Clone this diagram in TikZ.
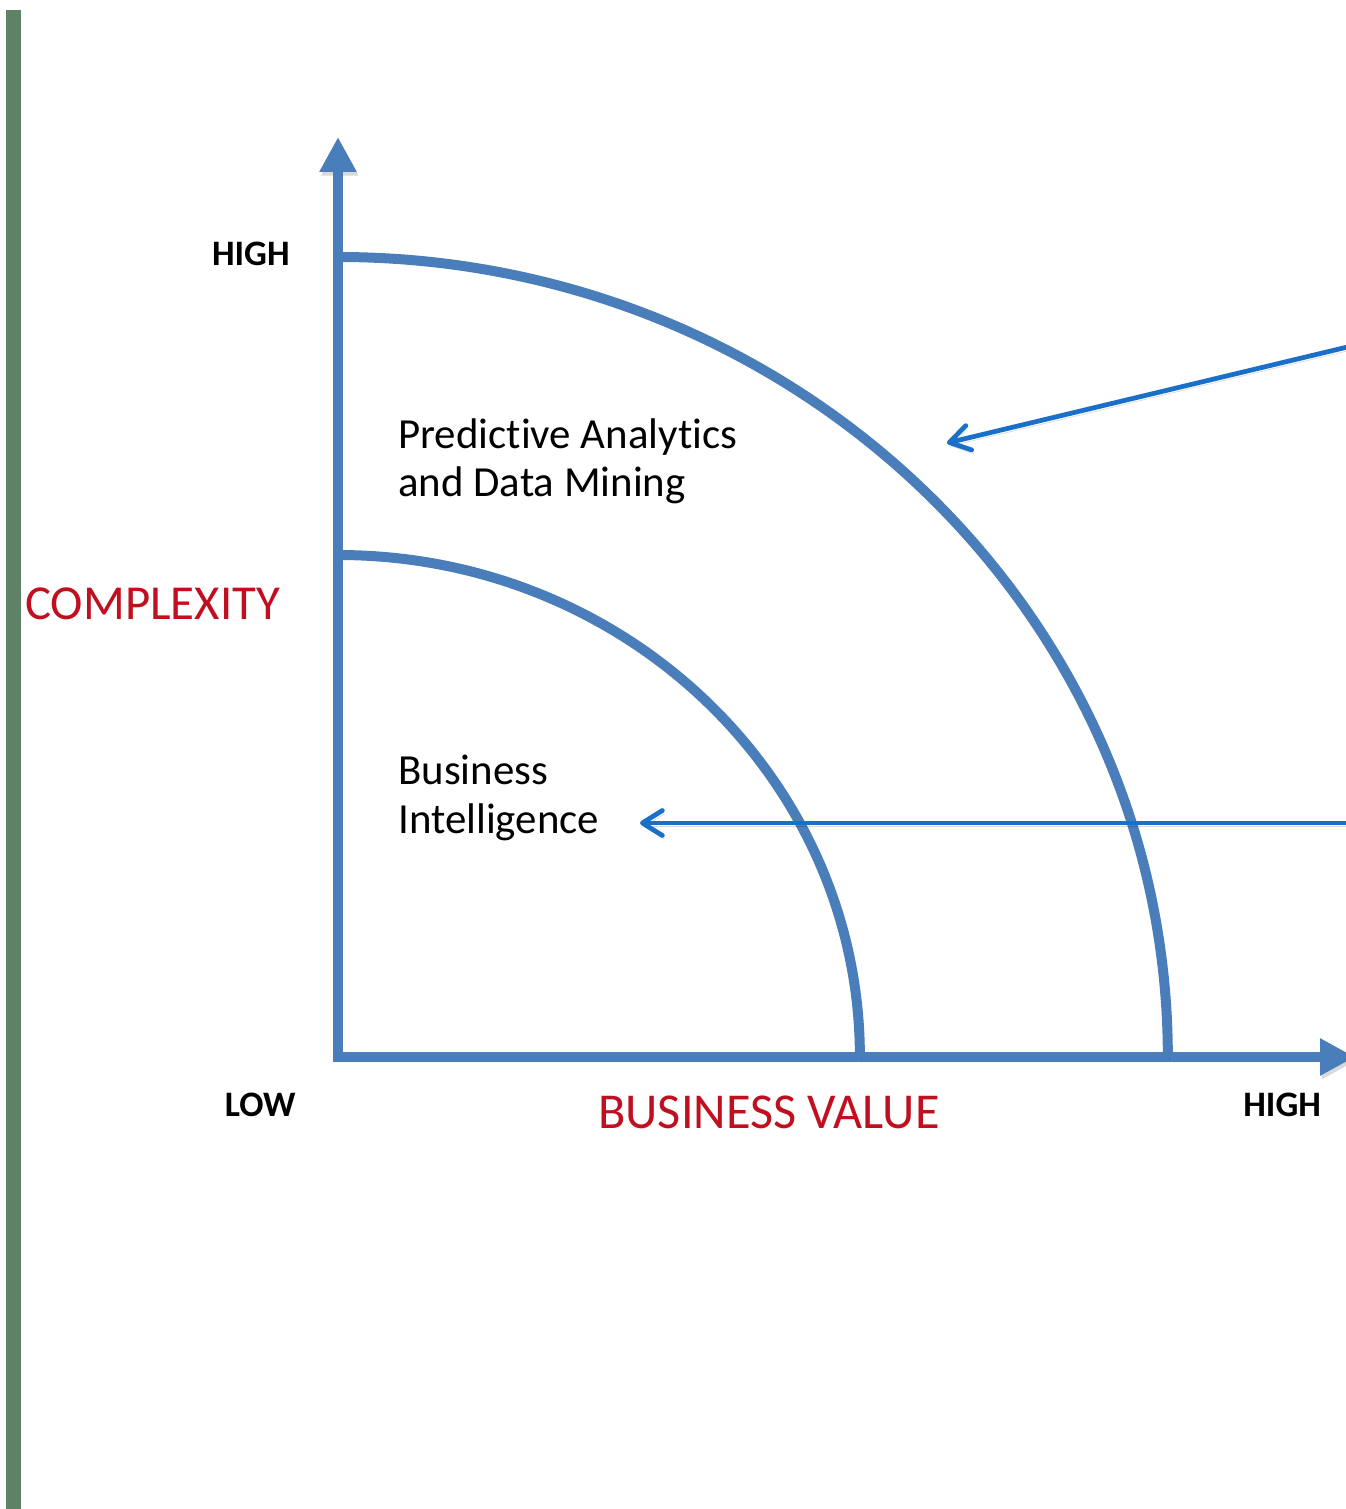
\documentclass[tikz,border=0pt]{standalone}
\usepackage{fontspec}
\setmainfont{Carlito}[Ligatures=NoCommon]
\usepackage{tikz}
\usetikzlibrary{arrows.meta}

\definecolor{axisblue}{RGB}{74,126,187}
\definecolor{pointblue}{RGB}{26,111,200}
\definecolor{labelred}{RGB}{192,16,32}
\definecolor{bargreen}{RGB}{94,130,102}

\begin{document}
\begin{tikzpicture}[x=0.02cm, y=0.02cm,
  axis/.style={draw=axisblue, line width=0.2cm, line join=miter},
  %
  shadowed/.style={preaction={draw=black, opacity=.15,
      transform canvas={xshift=1pt, yshift=-2pt}}},
  %
  pointer/.style={draw=pointblue, line width=0.095cm,
    -{Straight Barb[length=0.4cm, width=0.5cm, round]}},
  %
  ticklabel/.style={inner sep=0pt, font=\fontsize{20.4}{24}\selectfont\bfseries},
  %
  axislabel/.style={inner sep=0pt, text=labelred,
    font=\fontsize{27.8}{32}\selectfont},
  %
  region/.style={inner sep=0pt, align=left,
    font=\fontsize{24.4}{27.8}\selectfont}
  ]

  \useasboundingbox (-338,-452) rectangle (1008,1057);
  \clip (-338,-452) rectangle (1008,1057);

  % bar on the left edge
  \fill[bargreen] (-332,-452) rectangle (-317,1047);

  \begin{scope}
    %%%%%%%%%%%%%%%%%%%%%%%%%%%%%%%
    \coordinate (O) at (0,0);
    \coordinate (ytip) at (0,920);
    \coordinate (xtip) at (1017,0);
    \coordinate (outer) at (0,800);
    \coordinate (inner) at (0,502);
    %%%%%%%%%%%%%%%%%%%%%%%%%%%%%%%
    \draw[axis, shadowed, {Triangle[length=0.7cm, width=0.7cm]}-{Triangle[length=0.7cm, width=0.7cm]}]
      (ytip) -- (O) -- (xtip);
    \draw[axis, shadowed] (outer) arc[start angle=90, end angle=0,
      x radius=16.6cm, y radius=16cm];
    \draw[axis, shadowed] (inner) arc[start angle=90, end angle=0,
      x radius=10.44cm, y radius=10.04cm];
  \end{scope}

  \begin{scope}
    \node[ticklabel, anchor=base east] (yhigh) at (-48,791) {HIGH};
    \node[ticklabel, anchor=base east] (xlow) at (-42,-59) {LOW};
    \node[ticklabel, anchor=base west] (xhigh) at (905,-59) {HIGH};
    \node[axislabel, anchor=base west] (ylabel) at (-313,437) {COMPLEXITY};
    \node[axislabel, anchor=base west, font=\fontsize{28.6}{32}\selectfont]
      (xlabel) at (260,-71) {BUSINESS VALUE};
    % base anchor sits on the last line
    \node[region, anchor=base west] (pa) at (60,560)
      {Predictive Analytics\\and Data Mining};
    \node[region, anchor=base west] (bi) at (60,224)
      {Business\\Intelligence};
  \end{scope}

  \begin{scope}
    \coordinate (pa from) at (1022,713);
    \coordinate (pa to) at (609,614);
    \coordinate (bi from) at (1022,234);
    \coordinate (bi to) at (302,234);
    \draw[pointer, shadowed] (pa from) -- (pa to);
    \draw[pointer, shadowed] (bi from) -- (bi to);
  \end{scope}

\end{tikzpicture}
\end{document}
